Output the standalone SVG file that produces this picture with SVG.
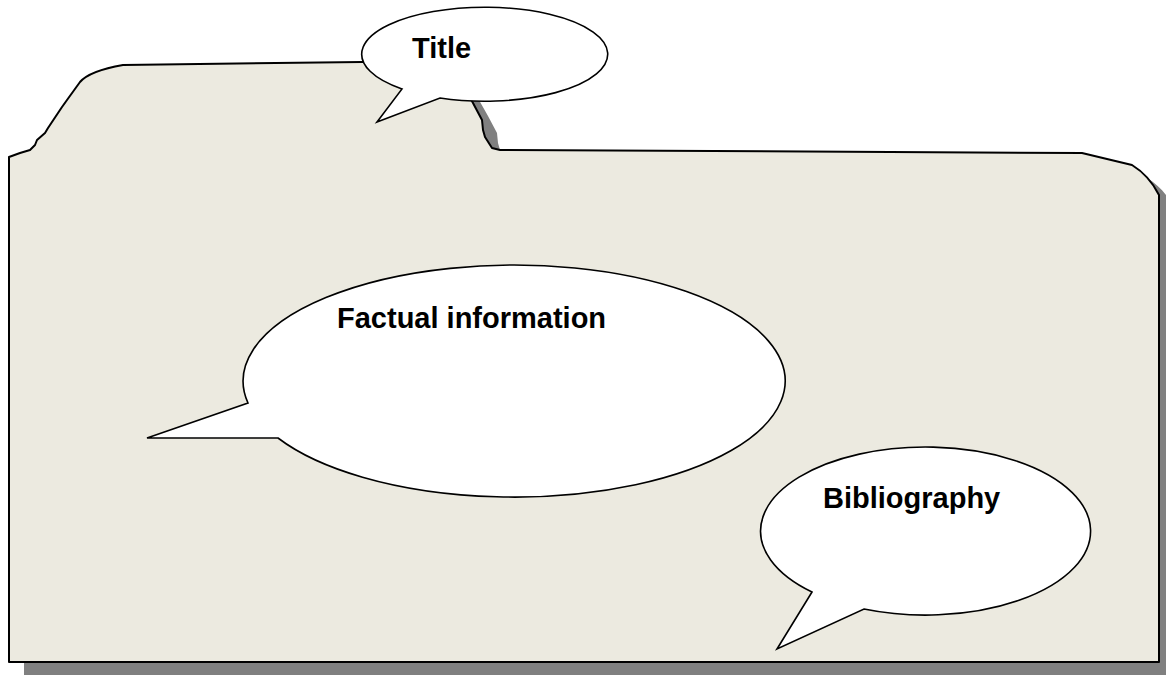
<svg xmlns="http://www.w3.org/2000/svg" width="1166" height="675" viewBox="0 0 1166 675">
  <style>
    .folder { fill: #ECEAE0; stroke: #000; stroke-width: 2; stroke-linejoin: round; }
    .shadow { fill: #808080; stroke: none; }
    .bubble { fill: #FFFFFF; stroke: #000; stroke-width: 1.6; stroke-linejoin: miter; }
    .label { font-family: "Liberation Sans", Arial, sans-serif; font-weight: bold; font-size: 29px; fill: #000; }
  </style>
  <defs>
    <path id="folderShape" d="M 9 662 L 9 157 L 20 153 L 30 150 L 35 145 L 37 140 L 45 133 L 48 128 L 50 125 L 58 113 L 62 107 L 67 100 L 80 82 C 87 74 100 69 123 65 L 362 62 L 420 62 L 460 80 L 473 103 L 482 120 L 483 130 L 485 137 L 492 148 L 500 150 L 1082 153 L 1132 165 C 1145 173 1153 183 1159 195 L 1159 662 Z"/>
  </defs>
  <rect width="1166" height="675" fill="#FFFFFF"/>
  <g id="folder">
    <use href="#folderShape" class="shadow" transform="translate(15,13)"/>
    <use href="#folderShape" class="folder"/>
  </g>
  <g id="title">
    <path class="bubble" d="M 402 89 A 123 47 0 1 1 440 98 L 377 122 Z"/>
    <text class="label" x="412" y="58">Title</text>
  </g>
  <g id="factual-information">
    <path class="bubble" d="M 248 403 A 271 116 0 1 1 278 438 L 147 438 Z"/>
    <text class="label" x="337" y="328">Factual information</text>
  </g>
  <g id="bibliography">
    <path class="bubble" d="M 812 592 A 165 84 0 1 1 864 609 L 777 649 Z"/>
    <text class="label" x="823" y="508">Bibliography</text>
  </g>
</svg>
